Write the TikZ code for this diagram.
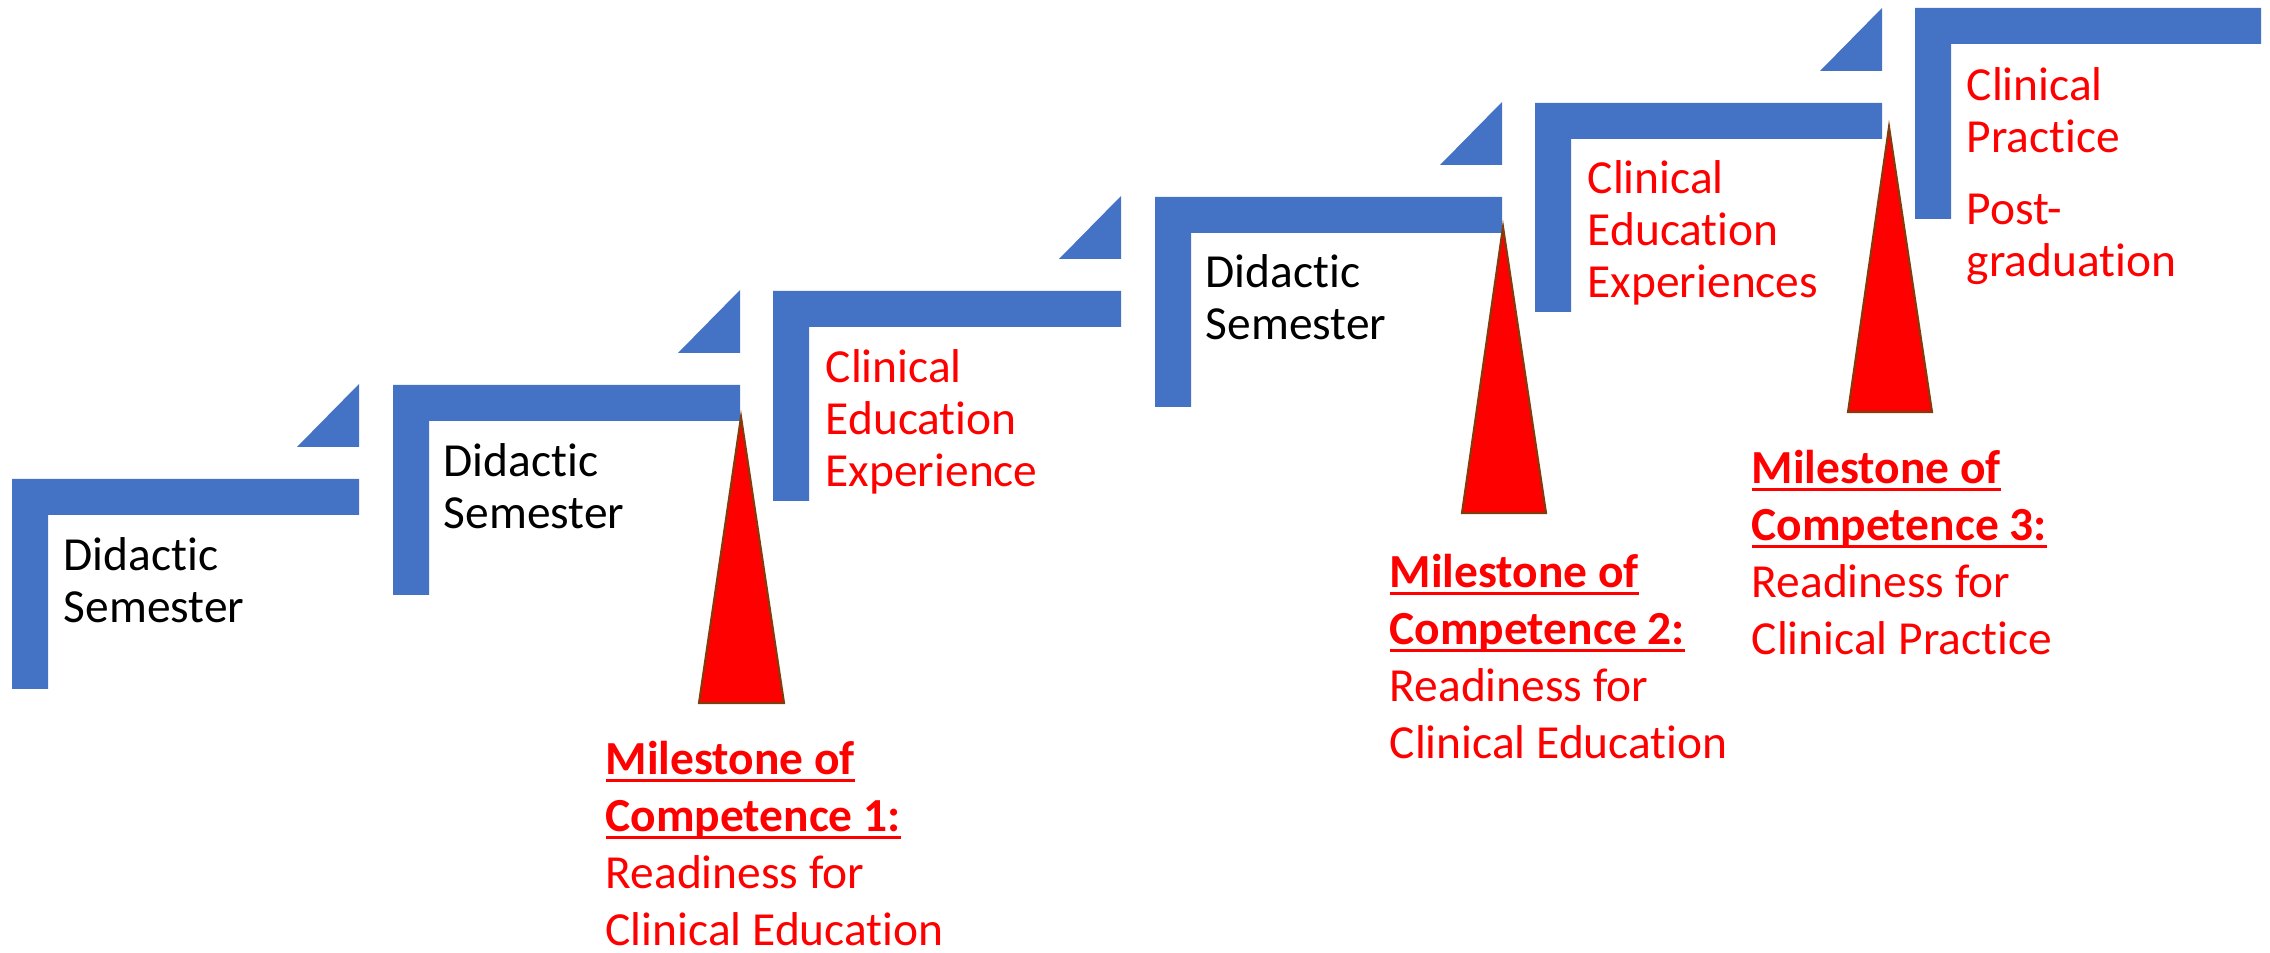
\documentclass[tikz,border=0pt]{standalone}
\usepackage{fontspec}
\setmainfont{Carlito}[Ligatures=NoCommon]

\definecolor{stepblue}{HTML}{4472C4}
\definecolor{peakred}{HTML}{FF0000}
\definecolor{peakedge}{HTML}{843C0C}

% underline at a fixed depth, through the descenders
\newcommand{\msunder}[1]{\setbox0=\hbox{#1}\rlap{\rule[-2.1pt]{\wd0}{0.8pt}}\box0}
\newcommand{\firstline}{\rule{0pt}{10pt}}

\begin{document}
\begin{tikzpicture}[x=0.1mm, y=-0.1mm,
  stepbar/.style={fill=stepblue},
  flag/.style={fill=stepblue},
  peak/.style={fill=peakred, draw=peakedge, line width=0.6pt, line join=miter},
  phase/.style={anchor=north west, inner sep=0pt, align=left,
    font=\fontsize{13.5}{14.8}\selectfont},
  milestone/.style={anchor=north west, inner sep=0pt, align=left, text=peakred,
    font=\fontsize{13.5}{16.2}\selectfont}]
\useasboundingbox (0,0) rectangle (2270,953);

% steps
\fill[stepbar] (12,689) -- (12,479) -- (359,479) -- (359,515)
  -- (48,515) -- (48,689) -- cycle;
\fill[stepbar] (393,595) -- (393,385) -- (740,385) -- (740,421)
  -- (429,421) -- (429,595) -- cycle;
\fill[stepbar] (773,501) -- (773,291) -- (1121,291) -- (1121,327)
  -- (809,327) -- (809,501) -- cycle;
\fill[stepbar] (1155,407) -- (1155,197) -- (1502,197) -- (1502,233)
  -- (1191,233) -- (1191,407) -- cycle;
\fill[stepbar] (1535,312) -- (1535,103) -- (1882,103) -- (1882,139)
  -- (1571,139) -- (1571,312) -- cycle;
\fill[stepbar] (1915,219) -- (1915,8) -- (2261,8) -- (2261,44)
  -- (1951,44) -- (1951,219) -- cycle;

% small corner flags
\fill[flag] (297,447) -- (359,447) -- (359,384) -- cycle;
\fill[flag] (678,353) -- (740,353) -- (740,290) -- cycle;
\fill[flag] (1059,259) -- (1121,259) -- (1121,196) -- cycle;
\fill[flag] (1440,165) -- (1502,165) -- (1502,102) -- cycle;
\fill[flag] (1820,71) -- (1882,71) -- (1882,8) -- cycle;

% milestone peaks
\draw[peak] (741,417) -- (784,703) -- (699,703) -- cycle;
\draw[peak] (1503,227) -- (1546,513) -- (1462,513) -- cycle;
\draw[peak] (1889,127) -- (1932,412) -- (1848,412) -- cycle;

% step labels
\node[phase] (sem1) at (63,535) {\firstline Didactic\\Semester};
\node[phase] (sem2) at (443,441) {\firstline Didactic\\Semester};
\node[phase, text=peakred] (clin1) at (825,347)
  {\firstline Clinical\\Education\\Experience};
\node[phase] (sem3) at (1205,252) {\firstline Didactic\\Semester};
\node[phase, text=peakred] (clin2) at (1587,158)
  {\firstline Clinical\\Education\\Experiences};
\node[phase, text=peakred] (practice) at (1966,65)
  {\firstline Clinical\\Practice\\[5.5pt]Post-\\graduation};

% milestone labels
\node[milestone] (mile1) at (605,739)
  {\firstline\msunder{\textbf{Milestone of}}\\\msunder{\textbf{Competence 1:}}\\Readiness for\\Clinical Education};
\node[milestone] (mile2) at (1389,552)
  {\firstline\msunder{\textbf{Milestone of}}\\\msunder{\textbf{Competence 2:}}\\Readiness for\\Clinical Education};
\node[milestone] (mile3) at (1751,448)
  {\firstline\msunder{\textbf{Milestone of}}\\\msunder{\textbf{Competence 3:}}\\Readiness for\\Clinical Practice};
\end{tikzpicture}
\end{document}
